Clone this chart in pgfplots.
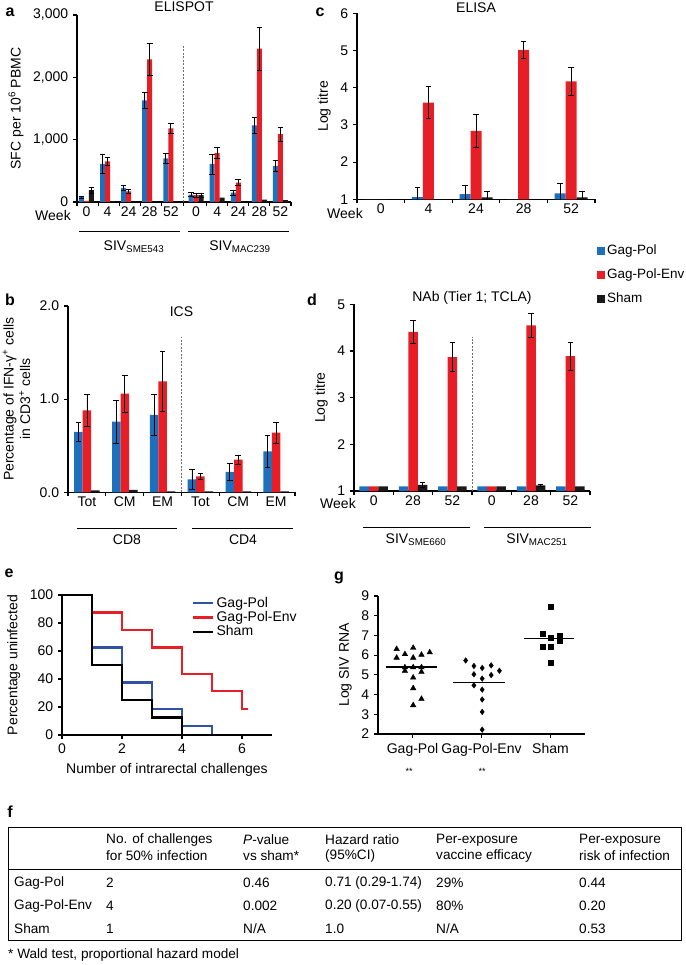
\documentclass[border=0pt]{standalone}
\usepackage{pgfplots}
\pgfplotsset{compat=1.18}
\usepackage{fontspec}
\setmainfont{Liberation Sans}
\definecolor{gpblue}{RGB}{31,112,188}
\definecolor{gpred}{RGB}{232,30,38}
\definecolor{gpblk}{RGB}{25,25,25}
\definecolor{lnblue}{RGB}{48,82,165}
\definecolor{divgray}{RGB}{110,110,110}
\pgfplotsset{
  every axis/.append style={
    scale only axis, anchor=south west,
    axis x line=bottom, axis y line=left,
    axis line style={-, line width=1.1pt, black},
    tick style={line width=1.1pt, black},
    tick align=outside, major tick length=4pt,
    /pgf/number format/assume math mode=true,
    scaled ticks=false,
  },
  errstyle/.style={error bars/.cd, y dir=both, y explicit,
    error bar style={draw=black, line width=0.7pt},
    error mark options={draw=black, rotate=90, mark size=2.8pt, line width=0.7pt}},
  eb/.style={draw=none, forget plot, xshift=#1, errstyle},
  bb/.style n args={3}{ybar, bar width=#1, bar shift=#2, fill=#3, draw=none},
}
\begin{document}
\fontsize{14}{16.5}\selectfont
\begin{tikzpicture}
\useasboundingbox (0pt,0pt) rectangle (685pt,-965pt);
% panel letters
\node[font=\fontsize{16}{18}\selectfont\bfseries] at (10pt,-12pt) {a};
\node[font=\fontsize{16}{18}\selectfont\bfseries] at (320pt,-12pt) {c};
\node[font=\fontsize{16}{18}\selectfont\bfseries] at (10pt,-300pt) {b};
\node[font=\fontsize{16}{18}\selectfont\bfseries] at (312pt,-300pt) {d};
\node[font=\fontsize{16}{18}\selectfont\bfseries] at (9pt,-573pt) {e};
\node[font=\fontsize{16}{18}\selectfont\bfseries] at (339pt,-578pt) {g};
\node[font=\fontsize{16}{18}\selectfont\bfseries] at (10pt,-812pt) {f};

% ---------------- panel a ----------------
\begin{axis}[at={(77pt,-202pt)}, width=214pt, height=187pt,
  xmin=-0.45, xmax=9.7, ymin=0, ymax=3000,
  ytick={0,1000,2000,3000},
  xtick={-0.45,0.55,1.55,2.55,3.55,4.6,5.7,6.7,7.7,8.7,9.7}, xticklabels={},
  extra x ticks={0,1,2,3,4,5.2,6.2,7.2,8.2,9.2},
  extra x tick labels={0,4,24,28,52,0,4,24,28,52},
  extra x tick style={major tick length=0pt},
  ylabel={SFC per 10\textsuperscript{6} PBMC},
  title={ELISPOT}, title style={yshift=-8pt},
]
\addplot[bb={5pt}{-5pt}{gpblue}] coordinates {(0,80)(1,610)(2,225)(3,1630)(4,700)(5.2,120)(6.2,610)(7.2,150)(8.2,1230)(9.2,580)};
\addplot[bb={5pt}{0pt}{gpred}] coordinates {(0,20)(1,650)(2,170)(3,2290)(4,1180)(5.2,110)(6.2,790)(7.2,310)(8.2,2460)(9.2,1090)};
\addplot[bb={5pt}{5pt}{gpblk}] coordinates {(0,190)(1,10)(2,0)(3,0)(4,10)(5.2,110)(6.2,70)(7.2,0)(8.2,40)(9.2,30)};
\addplot[eb=-5pt] coordinates {(0,80)+-(0,15)(1,610)+-(0,150)(2,225)+-(0,40)(3,1630)+-(0,130)(4,700)+-(0,80)(5.2,120)+-(0,30)(6.2,610)+-(0,160)(7.2,150)+-(0,40)(8.2,1230)+-(0,130)(9.2,580)+-(0,95)};
\addplot[eb=0pt] coordinates {(1,650)+-(0,60)(2,170)+-(0,30)(3,2290)+-(0,260)(4,1180)+-(0,80)(5.2,110)+-(0,30)(6.2,790)+-(0,90)(7.2,310)+-(0,50)(8.2,2460)+-(0,340)(9.2,1090)+-(0,110)};
\addplot[eb=5pt] coordinates {(0,190)+-(0,50)(5.2,110)+-(0,30)};
\draw[divgray, line width=0.6pt, dash pattern=on 2pt off 1.5pt] (axis cs:4.6,0) -- (axis cs:4.6,2500);
\end{axis}
\node at (53pt,-215pt) {Week};
\draw[line width=0.9pt] (79pt,-231pt) -- (180pt,-231pt);
\draw[line width=0.9pt] (188pt,-231pt) -- (289pt,-231pt);
\node at (134pt,-247pt) {SIV\textsubscript{SME543}};
\node at (240pt,-247pt) {SIV\textsubscript{MAC239}};

% ---------------- panel c ----------------
\begin{axis}[at={(357pt,-199.3pt)}, width=238pt, height=186pt,
  xmin=-0.5, xmax=4.5, ymin=1, ymax=6, ytick={1,...,6},
  xtick={-0.5,0.5,1.5,2.5,3.5,4.5}, xticklabels={},
  extra x ticks={0,1,2,3,4}, extra x tick labels={0,4,24,28,52},
  extra x tick style={major tick length=0pt},
  ylabel={Log titre},
  title={ELISA}, title style={yshift=-10pt},
  legend style={at={(1.008,-0.235)}, anchor=north west, draw=none, fill=none, inner sep=0pt, row sep=8pt, font=\fontsize{13.5}{16}\selectfont},
  legend cell align=left,
  legend image code/.code={\fill[#1] (0pt,-4pt) rectangle (8pt,4pt);},
]
\addplot[bb={11pt}{-11pt}{gpblue}] coordinates {(0,1)(1,1.06)(2,1.14)(3,1)(4,1.16)};
\addlegendentry{Gag-Pol}
\addplot[bb={11pt}{0pt}{gpred}] coordinates {(0,1)(1,3.6)(2,2.84)(3,5.02)(4,4.17)};
\addlegendentry{Gag-Pol-Env}
\addplot[bb={11pt}{11pt}{gpblk}] coordinates {(0,1)(1,1)(2,1.05)(3,1)(4,1.05)};
\addlegendentry{Sham}
\addplot[eb=-11pt] coordinates {(1,1.06)+-(0,0.27)(2,1.14)+-(0,0.24)(4,1.16)+-(0,0.27)};
\addplot[eb=0pt] coordinates {(1,3.6)+-(0,0.43)(2,2.84)+-(0,0.44)(3,5.02)+-(0,0.23)(4,4.17)+-(0,0.37)};
\addplot[eb=11pt] coordinates {(2,1.05)+-(0,0.16)(4,1.05)+-(0,0.17)};
\end{axis}
\node at (345pt,-213pt) {Week};

% ---------------- panel b ----------------
\begin{axis}[at={(68pt,-492.3pt)}, width=227pt, height=186.3pt,
  ybar=0pt, bar width=8.5pt,
  xmin=-0.5, xmax=5.5, ymin=0, ymax=2, ytick={0,1,2},
  yticklabel style={/pgf/number format/.cd, fixed, fixed zerofill, precision=1},
  xtick={-0.5,0.5,1.5,2.5,3.5,4.5,5.5}, xticklabels={},
  extra x ticks={0,1,2,3,4,5}, extra x tick labels={Tot,CM,EM,Tot,CM,EM},
  extra x tick style={major tick length=0pt},
  ylabel={Percentage of IFN-γ\textsuperscript{+} cells\\in CD3\textsuperscript{+} cells},
  ylabel style={align=center},
  title={ICS}, title style={yshift=-21pt},
]
\addplot[fill=gpblue, draw=none, errstyle] coordinates {(0,0.65)+-(0,0.10)(1,0.76)+-(0,0.23)(2,0.83)+-(0,0.22)(3,0.14)+-(0,0.11)(4,0.22)+-(0,0.09)(5,0.44)+-(0,0.17)};
\addplot[fill=gpred, draw=none, errstyle] coordinates {(0,0.88)+-(0,0.17)(1,1.06)+-(0,0.20)(2,1.19)+-(0,0.32)(3,0.17)+-(0,0.03)(4,0.35)+-(0,0.05)(5,0.64)+-(0,0.11)};
\addplot[fill=gpblk, draw=none] coordinates {(0,0.02)(1,0.025)(2,0.01)(3,0.01)(4,0.01)(5,0.01)};
\draw[divgray, line width=0.6pt, dash pattern=on 2pt off 1.5pt] (axis cs:2.5,0) -- (axis cs:2.5,1.67);
\end{axis}
\draw[line width=0.9pt] (77pt,-528pt) -- (177pt,-528pt);
\draw[line width=0.9pt] (192pt,-528pt) -- (293pt,-528pt);
\node at (127pt,-540pt) {CD8};
\node at (243pt,-540pt) {CD4};

% ---------------- panel d ----------------
\begin{axis}[at={(354pt,-491pt)}, width=236pt, height=186.7pt,
  xmin=-0.5, xmax=5.5, ymin=1, ymax=5, ytick={1,...,5},
  xtick={-0.5,0.5,1.5,2.5,3.5,4.5,5.5}, xticklabels={},
  extra x ticks={0,1,2,3,4,5}, extra x tick labels={0,28,52,0,28,52},
  extra x tick style={major tick length=0pt},
  ylabel={Log titre},
  title={NAb (Tier 1; TCLA)}, title style={yshift=-11pt},
]
\addplot[bb={9.5pt}{-9.5pt}{gpblue}] coordinates {(0,1.1)(1,1.1)(2,1.1)(3,1.1)(4,1.1)(5,1.1)};
\addplot[bb={9.5pt}{0pt}{gpred}] coordinates {(0,1.1)(1,4.41)(2,3.87)(3,1.1)(4,4.55)(5,3.89)};
\addplot[bb={9.5pt}{9.5pt}{gpblk}] coordinates {(0,1.1)(1,1.13)(2,1.1)(3,1.1)(4,1.12)(5,1.1)};
\addplot[eb=0pt] coordinates {(1,4.41)+-(0,0.25)(2,3.87)+-(0,0.31)(4,4.55)+-(0,0.25)(5,3.89)+-(0,0.30)};
\addplot[eb=9.5pt] coordinates {(1,1.13)+-(0,0.06)(4,1.12)+-(0,0.03)};
\draw[divgray, line width=0.6pt, dash pattern=on 2pt off 1.5pt] (axis cs:2.5,1) -- (axis cs:2.5,4.3);
\end{axis}
\node at (338pt,-503pt) {Week};
\draw[line width=0.9pt] (363pt,-527pt) -- (470pt,-527pt);
\draw[line width=0.9pt] (484pt,-527pt) -- (591pt,-527pt);
\node at (416pt,-540pt) {SIV\textsubscript{SME660}};
\node at (537pt,-540pt) {SIV\textsubscript{MAC251}};

% ---------------- panel e ----------------
\begin{axis}[at={(62pt,-735pt)}, width=210pt, height=140pt,
  xmin=0, xmax=7, ymin=0, ymax=100, xtick={0,2,4,6}, ytick={0,20,...,100},
  xlabel={Number of intrarectal challenges},
  ylabel={Percentage uninfected},
  clip=false,
  legend style={at={(0.62,1.0)}, anchor=north west, draw=none, fill=none, inner sep=0pt, row sep=-2pt},
  legend cell align=left,
  legend image code/.code={\draw[#1] (0pt,0pt) -- (20pt,0pt);},
]
\addplot[const plot, lnblue, line width=2.2pt] coordinates {(0,100)(1,62.5)(2,37.5)(3,18.75)(4,6.25)(5,0)(7,0)};
\addlegendentry{Gag-Pol}
\addplot[const plot, gpred, line width=2.2pt] coordinates {(0,100)(1,87.5)(2,75)(3,62.5)(4,43.75)(5,31.25)(6,18.75)(6.2,18.75)};
\addlegendentry{Gag-Pol-Env}
\addplot[const plot, black, line width=2.2pt] coordinates {(0,100)(1,50)(2,25)(3,12.5)(4,0)(7,0)};
\addlegendentry{Sham}
\end{axis}

% ---------------- panel g ----------------
\begin{axis}[at={(378pt,-734pt)}, width=207pt, height=138pt,
  xmin=0.5, xmax=3.5, ymin=2, ymax=9, ytick={2,...,9},
  xtick={1,2,3}, xticklabels={Gag-Pol,Gag-Pol-Env,Sham},
  ylabel={Log SIV RNA},
]
\addplot[only marks, mark=triangle*, mark size=3.2pt, black] coordinates {(0.77,6.31)(1.01,6.37)(1.25,6.14)(0.89,6.05)(1.13,6.02)(0.77,5.87)(1.01,5.87)(0.89,5.38)(1.01,5.38)(1.13,5.38)(0.89,5.20)(1.13,5.15)(1.01,4.86)(1.01,4.32)(1.13,3.78)(1.01,3.46)};
\addplot[only marks, mark=diamond*, mark size=2.8pt, black] coordinates {(1.77,5.73)(1.89,5.45)(2.01,5.35)(2.14,5.48)(2.26,5.21)(1.89,5.03)(2.14,4.99)(2.01,4.81)(1.89,4.47)(2.01,4.25)(2.01,3.75)(2.01,3.12)(2.01,2.22)};
\addplot[only marks, mark=square*, mark size=2.5pt, black] coordinates {(3.0,8.44)(2.88,7.10)(3.13,7.01)(3.0,6.88)(3.13,6.73)(2.88,6.42)(3.0,6.42)(3.0,5.63)};
\addplot[black, line width=1.1pt] coordinates {(0.61,5.40)(1.36,5.40)};
\addplot[black, line width=1.1pt] coordinates {(1.59,4.62)(2.34,4.62)};
\addplot[black, line width=1.1pt] coordinates {(2.61,6.86)(3.34,6.86)};
\end{axis}
\node[font=\fontsize{9}{10}\selectfont] at (409pt,-771pt) {**};
\node[font=\fontsize{9}{10}\selectfont] at (482pt,-771pt) {**};

% ---------------- table f ----------------
\draw[line width=0.8pt] (8pt,-827pt) rectangle (681pt,-940pt);
\draw[line width=0.8pt] (8pt,-869pt) -- (681pt,-869pt);
\begin{scope}[every node/.style={anchor=west, inner sep=0pt, font=\fontsize{13.6}{16}\selectfont}]
\node at (106pt,-840pt) {No. of challenges};
\node at (106pt,-856pt) {for 50\% infection};
\node at (243pt,-840pt) {\textit{P}-value};
\node at (243pt,-856pt) {vs sham*};
\node at (325pt,-840pt) {Hazard ratio};
\node at (325pt,-856pt) {(95\%CI)};
\node at (436pt,-840pt) {Per-exposure};
\node at (436pt,-856pt) {vaccine efficacy};
\node at (579pt,-840pt) {Per-exposure};
\node at (579pt,-856pt) {risk of infection};
\node at (14pt,-883pt) {Gag-Pol};
\node at (106pt,-883pt) {2};
\node at (243pt,-883pt) {0.46};
\node at (325pt,-883pt) {0.71 (0.29-1.74)};
\node at (436pt,-883pt) {29\%};
\node at (579pt,-883pt) {0.44};
\node at (14pt,-906pt) {Gag-Pol-Env};
\node at (106pt,-906pt) {4};
\node at (243pt,-906pt) {0.002};
\node at (325pt,-906pt) {0.20 (0.07-0.55)};
\node at (436pt,-906pt) {80\%};
\node at (579pt,-906pt) {0.20};
\node at (14pt,-929pt) {Sham};
\node at (106pt,-929pt) {1};
\node at (243pt,-929pt) {N/A};
\node at (325pt,-929pt) {1.0};
\node at (436pt,-929pt) {N/A};
\node at (579pt,-929pt) {0.53};
\node at (8pt,-955pt) {* Wald test, proportional hazard model};
\end{scope}
\end{tikzpicture}
\end{document}
